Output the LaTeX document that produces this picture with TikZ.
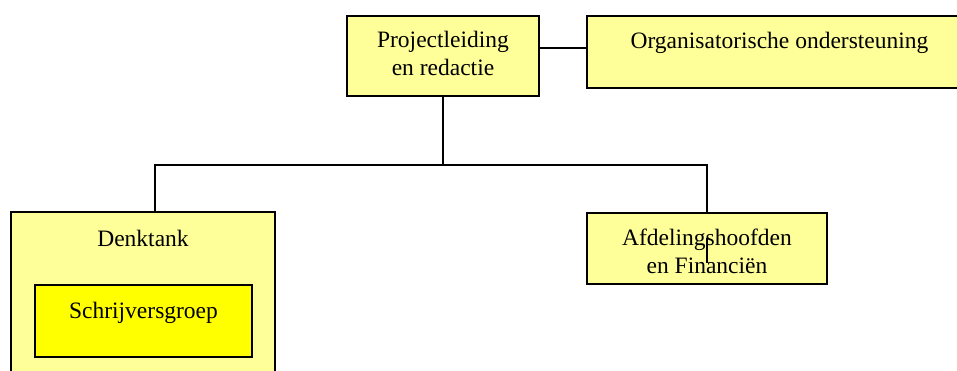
\documentclass[tikz,border=0pt]{standalone}
\usepackage{fontspec}
\setmainfont{Liberation Serif}
\usetikzlibrary{positioning}
\definecolor{boxyellow}{RGB}{255,255,153}
\definecolor{groupyellow}{RGB}{255,255,0}
\tikzset{
  unit/.style={draw=black, fill=boxyellow, line width=1.6pt, rectangle, inner sep=0pt},
  subunit/.style={unit, fill=groupyellow},
  lbl/.style={font=\fontsize{23.5}{28}\selectfont, align=center, inner sep=0pt},
  link/.style={line width=1.6pt}
}
\begin{document}
\begin{tikzpicture}[x=1pt,y=-1pt]
  \useasboundingbox (0,0) rectangle (957,371);
  % boxes
  \node[unit, minimum width=192pt, minimum height=80pt] (proj) at (443,56) {};
  \node[unit, minimum width=385pt, minimum height=72pt] (org) at (779.5,52) {};
  \node[unit, minimum width=264pt, minimum height=180pt] (denk) at (143,302) {};
  \node[subunit, minimum width=217pt, minimum height=72pt] (schr) at (143.5,321) {};
  \node[unit, minimum width=240pt, minimum height=71pt] (afd) at (707,248.5) {};
  % texts
  \node[lbl] (projtxt) at (443,53.5) {Projectleiding\\en redactie};
  \node[lbl, anchor=base] (orgtxt) at (779.5,49) {Organisatorische ondersteuning};
  \node[lbl, anchor=base] (denktxt) at (143,247) {Denktank};
  \node[lbl, anchor=base] (schrtxt) at (143.5,318) {Schrijversgroep};
  \node[lbl] (afdtxt) at (707,251) {Afdelingshoofden\\en Financiën};
  % connectors
  \coordinate (split) at (443,165);
  \draw[link] ([yshift=8pt]proj.east) -- ([yshift=8pt]proj.east -| org.west);
  \draw[link] (proj.south) -- (split);
  \draw[link] (split) -| ([xshift=12pt]denk.north);
  \draw[link] (split) -| (afd.north);
  \draw[link] ([yshift=10.5pt]afd.center) -- ([yshift=-14.5pt]afd.center);
\end{tikzpicture}
\end{document}
